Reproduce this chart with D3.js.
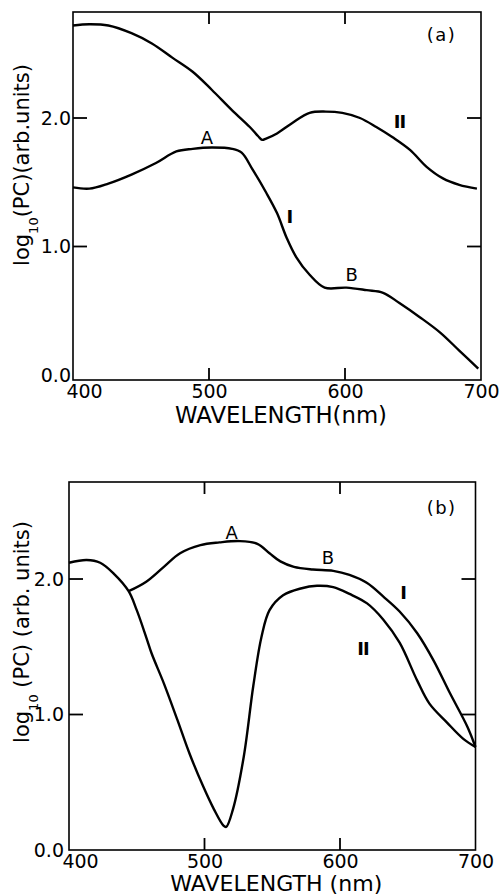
<!DOCTYPE html>
<html>
<head>
<meta charset="utf-8">
<script src="https://cdn.jsdelivr.net/npm/d3@7"></script>
<style>
  body { margin: 0; background: #fff; }
  svg { display: block; }
  text { font-family: "DejaVu Sans", sans-serif; fill: #000; }
</style>
</head>
<body>
<svg width="503" height="896"></svg>
<script>
// shared axes
const wavelengthTicks = [400, 500, 600, 700];
const valueTicks = [0, 1, 2];

// panel (a)
const aCurveIWl = [400, 412, 426, 443, 461, 476, 488, 502, 517, 524, 532, 542, 550, 557, 564, 574, 585, 601, 616, 628, 640, 655, 670, 684, 698];
const aCurveIVal = [1.46, 1.45, 1.49, 1.56, 1.65, 1.74, 1.76, 1.77, 1.76, 1.73, 1.60, 1.42, 1.26, 1.07, 0.92, 0.78, 0.68, 0.68, 0.66, 0.64, 0.56, 0.45, 0.33, 0.19, 0.05];
const aCurveIIWl = [400, 412, 426, 443, 458, 473, 488, 502, 517, 530, 536, 539, 542, 550, 561, 574, 586, 598, 611, 623, 635, 648, 660, 672, 684, 697];
const aCurveIIVal = [2.72, 2.73, 2.72, 2.66, 2.58, 2.47, 2.36, 2.22, 2.06, 1.93, 1.86, 1.83, 1.84, 1.88, 1.96, 2.04, 2.05, 2.04, 2.00, 1.93, 1.85, 1.75, 1.62, 1.53, 1.48, 1.45];

// panel (b)
const bCurveIWl = [444, 457, 470, 482, 497, 511, 526, 539, 548, 556, 566, 580, 595, 607, 620, 632, 644, 657, 669, 681, 694, 700];
const bCurveIVal = [1.91, 1.98, 2.09, 2.19, 2.25, 2.27, 2.28, 2.26, 2.19, 2.13, 2.09, 2.07, 2.06, 2.03, 1.97, 1.87, 1.76, 1.60, 1.40, 1.16, 0.91, 0.76];
const bCurveIIWl = [400, 413, 423, 433, 444, 450, 457, 461, 470, 480, 489, 499, 507, 514, 516, 521, 529, 536, 542, 548, 558, 571, 583, 595, 607, 620, 632, 644, 657, 666, 679, 691, 700];
const bCurveIIVal = [2.12, 2.14, 2.12, 2.04, 1.91, 1.77, 1.57, 1.45, 1.23, 0.96, 0.71, 0.47, 0.30, 0.18, 0.17, 0.30, 0.69, 1.21, 1.57, 1.77, 1.88, 1.93, 1.95, 1.94, 1.89, 1.82, 1.70, 1.53, 1.25, 1.08, 0.94, 0.82, 0.76];

const svg = d3.select('svg');

function drawPanel(p) {
  const x = d3.scaleLinear().domain([400, 700]).range([p.left, p.right]);
  const y = d3.scaleLinear().domain(p.yDomain).range([p.bottom, p.top]);
  const g = svg.append('g');

  // frame
  g.append('rect')
    .attr('x', p.left).attr('y', p.top)
    .attr('width', p.right - p.left).attr('height', p.bottom - p.top)
    .attr('fill', 'none').attr('stroke', '#000').attr('stroke-width', 1.6);

  // inward ticks on all four sides (only interior values)
  const innerX = wavelengthTicks.filter(d => d > 400 && d < 700);
  const innerY = valueTicks.filter(d => d > 0);
  g.selectAll('.tb').data(innerX).enter().append('line')
    .attr('x1', d => x(d)).attr('x2', d => x(d))
    .attr('y1', p.bottom).attr('y2', p.bottom - 12)
    .attr('stroke', '#000').attr('stroke-width', 1.8);
  g.selectAll('.tt').data(innerX).enter().append('line')
    .attr('x1', d => x(d)).attr('x2', d => x(d))
    .attr('y1', p.top).attr('y2', p.top + 12)
    .attr('stroke', '#000').attr('stroke-width', 1.8);
  g.selectAll('.tl').data(innerY).enter().append('line')
    .attr('x1', p.left).attr('x2', p.left + 14)
    .attr('y1', d => y(d)).attr('y2', d => y(d))
    .attr('stroke', '#000').attr('stroke-width', 1.8);
  g.selectAll('.tr').data(innerY).enter().append('line')
    .attr('x1', p.right).attr('x2', p.right - 14)
    .attr('y1', d => y(d)).attr('y2', d => y(d))
    .attr('stroke', '#000').attr('stroke-width', 1.8);

  // tick labels
  const xAxis = g.append('g')
    .attr('transform', `translate(0,${p.bottom})`)
    .call(d3.axisBottom(x).tickValues(wavelengthTicks).tickSize(0).tickPadding(5));
  xAxis.select('.domain').remove();
  xAxis.selectAll('text')
    .attr('font-size', 19).attr('font-family', '"DejaVu Sans", sans-serif')
    .attr('dx', d => d === 400 ? 11 : 0);

  const yAxis = g.append('g')
    .attr('transform', `translate(${p.left},0)`)
    .call(d3.axisLeft(y).tickValues(valueTicks).tickFormat(d3.format('.1f')).tickSize(0).tickPadding(p.yPad));
  yAxis.select('.domain').remove();
  yAxis.selectAll('text')
    .attr('font-size', 19).attr('font-family', '"DejaVu Sans", sans-serif');

  // axis titles
  g.append('text')
    .attr('x', (p.left + p.right) / 2 + 4).attr('y', p.bottom + p.xTitleGap)
    .attr('text-anchor', 'middle').attr('font-size', p.xTitleSize)
    .attr('textLength', 212).attr('lengthAdjust', 'spacingAndGlyphs')
    .text(p.xTitle);

  const yt = g.append('text')
    .attr('transform', `translate(29,${p.yTitleY}) rotate(-90)`)
    .attr('text-anchor', 'middle').attr('font-size', 21);
  yt.append('tspan').text('log');
  yt.append('tspan').attr('font-size', 13).attr('dy', 9).text('10');
  yt.append('tspan').attr('dy', -9).text(p.yTitleRest);

  // curves
  const line = d3.line()
    .x(d => x(d[0])).y(d => y(d[1]))
    .curve(d3.curveCatmullRom.alpha(0.5));
  p.curves.forEach(c => {
    g.append('path')
      .datum(d3.zip(c.wl, c.val))
      .attr('d', line)
      .attr('fill', 'none').attr('stroke', '#000')
      .attr('stroke-width', 2.4).attr('stroke-linejoin', 'round');
  });

  // annotations
  p.notes.forEach(n => {
    g.append('text')
      .attr('x', x(n.w)).attr('y', y(n.v))
      .attr('text-anchor', 'middle').attr('dominant-baseline', 'central')
      .attr('font-size', n.size || 18)
      .attr('font-family', n.serif ? '"DejaVu Serif", serif' : '"DejaVu Sans", sans-serif')
      .attr('font-weight', n.serif ? 'bold' : 'normal')
      .attr('letter-spacing', n.serif ? -1 : (n.paren ? 1.5 : 0))
      .text(n.t);
  });
}

drawPanel({
  left: 73, right: 481, top: 12, bottom: 380,
  yDomain: [-0.039, 2.825], yPad: 2, yTitleY: 165, xTitleGap: 43, xTitleSize: 23,
  xTitle: 'WAVELENGTH(nm)', yTitleRest: '(PC)(arb.units)',
  curves: [{ wl: aCurveIWl, val: aCurveIVal }, { wl: aCurveIIWl, val: aCurveIIVal }],
  notes: [
    { t: '(a)', w: 671, v: 2.65, size: 18, paren: true },
    { t: 'A', w: 498.5, v: 1.85 },
    { t: 'B', w: 605, v: 0.78 },
    { t: 'I', w: 559, v: 1.23, serif: true, size: 18 },
    { t: 'II', w: 640, v: 1.97, serif: true, size: 18 }
  ]
});

drawPanel({
  left: 69, right: 475.5, top: 482, bottom: 850,
  yDomain: [0, 2.716], yPad: 5, yTitleY: 632, xTitleGap: 41, xTitleSize: 22,
  xTitle: 'WAVELENGTH (nm)', yTitleRest: ' (PC) (arb. units)',
  curves: [{ wl: bCurveIWl, val: bCurveIVal }, { wl: bCurveIIWl, val: bCurveIIVal }],
  notes: [
    { t: '(b)', w: 675, v: 2.53, size: 18, paren: true },
    { t: 'A', w: 520, v: 2.34 },
    { t: 'B', w: 591, v: 2.16 },
    { t: 'I', w: 646.5, v: 1.90, serif: true, size: 18 },
    { t: 'II', w: 617, v: 1.49, serif: true, size: 18 }
  ]
});
</script>
</body>
</html>
